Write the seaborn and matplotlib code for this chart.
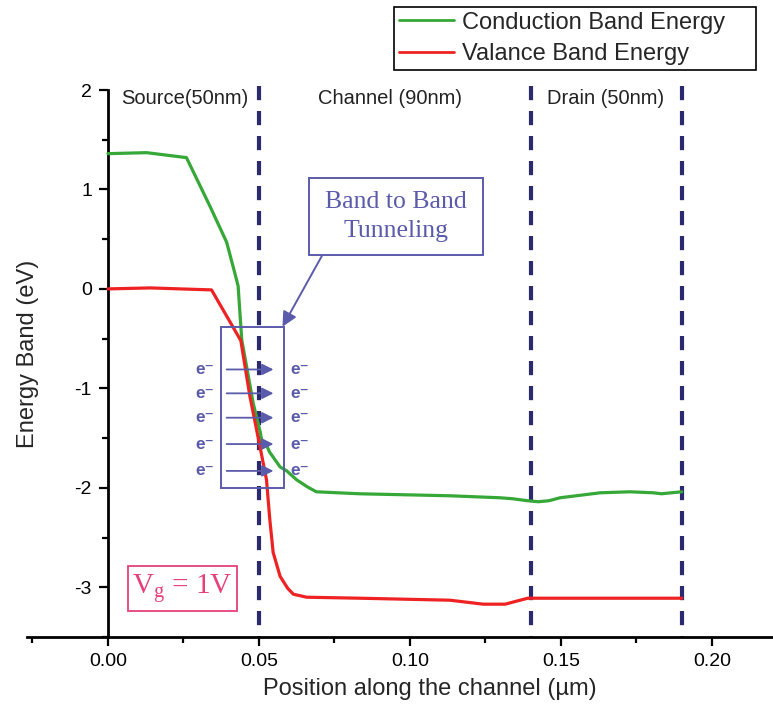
import numpy as np
import pandas as pd
import matplotlib
matplotlib.use("Agg")
import matplotlib.pyplot as plt
from matplotlib.patches import Rectangle
from matplotlib.lines import Line2D
import seaborn as sns

# Conduction band energy along the channel (x in µm, E in eV)
cb_x = [0.000, 0.0128, 0.026, 0.0338, 0.0393, 0.0420, 0.0431, 0.0437, 0.0443,
        0.0481, 0.0505, 0.0512, 0.0522, 0.0535, 0.0570, 0.0592, 0.0625, 0.0660,
        0.0690, 0.0834, 0.1132, 0.1298, 0.1340, 0.1390, 0.1425, 0.1460, 0.1497,
        0.1630, 0.1728, 0.1806, 0.1833, 0.1865, 0.1900]
cb_e = [1.36, 1.37, 1.32, 0.83, 0.47, 0.16, 0.03, -0.24, -0.51,
        -1.15, -1.45, -1.58, -1.55, -1.64, -1.79, -1.83, -1.92, -1.99,
        -2.04, -2.06, -2.08, -2.10, -2.11, -2.13, -2.14, -2.13, -2.10,
        -2.05, -2.04, -2.05, -2.06, -2.05, -2.04]

# Valence band energy along the channel
vb_x = [0.000, 0.014, 0.0343, 0.0440, 0.0470, 0.0503, 0.0525, 0.0536, 0.0547,
        0.0570, 0.0595, 0.0614, 0.0658, 0.0834, 0.1132, 0.1243, 0.1315, 0.1390,
        0.1900]
vb_e = [0.00, 0.01, -0.01, -0.52, -1.08, -1.58, -1.92, -2.32, -2.65,
        -2.89, -3.01, -3.07, -3.10, -3.11, -3.13, -3.17, -3.17, -3.11,
        -3.11]

series_names = ["Conduction Band Energy", "Valance Band Energy"]
series_colors = ["#35a838", "#ee2222"]

# Region boundaries (µm) and region labels
boundaries = [0.05, 0.14, 0.19]
region_labels = ["Source(50nm)", "Channel (90nm)", "Drain (50nm)"]
region_label_x = [0.0254, 0.0934, 0.1646]

# Tunneling electrons: rows of e- markers across the junction
electron_rows = [-0.81, -1.05, -1.295, -1.56, -1.83]

x_ticks = [0.00, 0.05, 0.10, 0.15, 0.20]
y_ticks = [-3, -2, -1, 0, 1, 2]

df = pd.concat([
    pd.DataFrame({"x": cb_x, "E": cb_e, "band": series_names[0]}),
    pd.DataFrame({"x": vb_x, "E": vb_e, "band": series_names[1]}),
], ignore_index=True)

sns.set_theme(style="white")
plt.rcParams["font.family"] = ["Liberation Sans", "DejaVu Sans"]
plt.rcParams["axes.unicode_minus"] = False

fig = plt.figure(figsize=(7.73, 7.17), dpi=100)
ax = fig.add_axes([27 / 773, 1 - 637 / 717, 746 / 773, 547 / 717])

palette = dict(zip(series_names, series_colors))
sns.lineplot(data=df, x="x", y="E", hue="band", palette=palette, sort=False,
             estimator=None, linewidth=2.3, legend=False, ax=ax, zorder=3)

ax.set_xlim(-0.0268, 0.2202)
ax.set_ylim(-3.5, 2.0)

# spines: left spine sits at x = 0, x axis at the bottom
for side in ["top", "right"]:
    ax.spines[side].set_visible(False)
ax.spines["left"].set_position(("data", 0))
for side in ["left", "bottom"]:
    ax.spines[side].set_linewidth(2.0)
    ax.spines[side].set_color("black")

ax.set_xticks(x_ticks)
ax.set_xticklabels([f"{v:.2f}" for v in x_ticks])
ax.set_xticks(np.arange(-0.025, 0.22, 0.05), minor=True)
ax.set_yticks(y_ticks)
ax.set_yticklabels([str(v) for v in y_ticks])
ax.set_yticks(np.arange(-3.5, 2.0, 1.0), minor=True)
ax.tick_params(axis="both", which="major", direction="out", length=6.5,
               width=1.6, labelsize=14, colors="black", pad=5)
ax.tick_params(axis="both", which="minor", direction="out", length=4,
               width=1.6, colors="black")
ax.tick_params(axis="x", bottom=True, which="both")
ax.tick_params(axis="y", left=True, which="both")

ax.set_xlabel("Position along the channel (µm)", fontsize=17)
ax.set_ylabel("Energy Band (eV)", fontsize=17)
ax.xaxis.set_label_coords(0.540, -0.075)
ax.yaxis.set_label_coords(0.016, 0.517)

# region boundaries, dash pattern running from the top down
navy = "#2b2a6e"
for b in boundaries:
    ax.plot([b, b], [2.04, -3.5], color=navy, linewidth=3.0,
            linestyle=(0, (3.4, 2.6)), zorder=2, clip_on=False)
for lbl, xl in zip(region_labels, region_label_x):
    ax.text(xl, 1.915, lbl, ha="center", va="center", fontsize=14.5,
            color="#222222")

# band-to-band tunneling annotation
anno = "#5b5bab"
serif = ["Liberation Serif", "DejaVu Serif"]
ax.add_patch(Rectangle((0.0666, 0.337), 0.1242 - 0.0666, 1.111 - 0.337,
                       fill=False, edgecolor=anno, linewidth=1.4, zorder=4))
ax.text(0.0954, 0.727, "Band to Band\nTunneling", ha="center", va="center",
        fontsize=18.5, color=anno, family=serif, linespacing=1.45, zorder=4)
ax.annotate("", xy=(0.0578, -0.38), xytext=(0.0708, 0.33),
            arrowprops=dict(arrowstyle="-|>", color=anno, lw=1.4,
                            mutation_scale=22, shrinkA=0, shrinkB=0),
            zorder=4)

ax.add_patch(Rectangle((0.0373, -2.00), 0.0583 - 0.0373, 1.62,
                       fill=False, edgecolor=anno, linewidth=1.4, zorder=4))
for ey in electron_rows:
    ax.text(0.0321, ey, "e⁻", ha="center", va="center", fontsize=12.5,
            fontweight="bold", color=anno, zorder=5)
    ax.text(0.0636, ey, "e⁻", ha="center", va="center", fontsize=12.5,
            fontweight="bold", color=anno, zorder=5)
    ax.annotate("", xy=(0.0548, ey), xytext=(0.0393, ey),
                arrowprops=dict(arrowstyle="-|>", color=anno, lw=1.3,
                                mutation_scale=17, shrinkA=0, shrinkB=0),
                zorder=5)

# gate voltage tag
vg = "#e6407a"
ax.add_patch(Rectangle((0.0065, -3.24), 0.0426 - 0.0065, 0.453,
                       fill=False, edgecolor=vg, linewidth=1.3, zorder=4))
ax.text(0.0245, -3.015, r"V$_{\mathregular{g}}$ = 1V", ha="center",
        va="center", fontsize=21, color=vg, family=serif, zorder=4)

handles = [Line2D([], [], color=c, linewidth=2.0) for c in series_colors]
fig.legend(handles, series_names, loc="upper left", mode="expand",
           bbox_to_anchor=(394 / 773, 1 - 70 / 717, (756 - 394) / 773, 63 / 717),
           fontsize=17, frameon=True, fancybox=False, edgecolor="black",
           framealpha=1, borderaxespad=0, handlelength=2.35,
           handletextpad=0.35, labelspacing=0.39, borderpad=0.2)
fig.legends[0].get_frame().set_linewidth(1.2)

fig.savefig("out.png", dpi=100)
